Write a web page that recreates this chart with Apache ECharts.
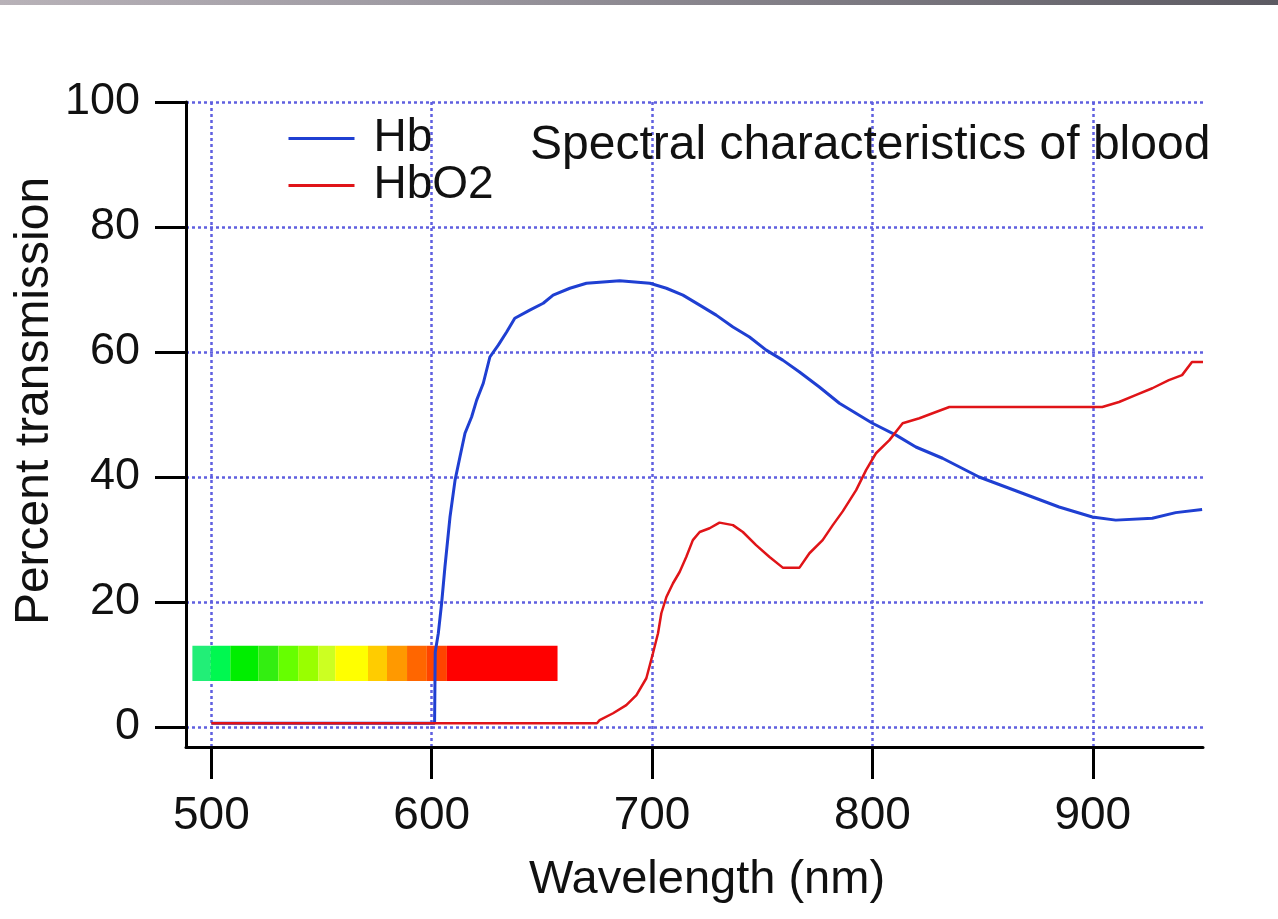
<!DOCTYPE html>
<html>
<head>
<meta charset="utf-8">
<title>Spectral characteristics of blood</title>
<script src="https://cdn.jsdelivr.net/npm/echarts@6/dist/echarts.min.js"></script>
<style>
  html, body { margin: 0; padding: 0; background: #fff; }
  #main { width: 1278px; height: 919px; }
</style>
</head>
<body>
<div id="main"></div>
<script>
// tick values
var xTicks = [500, 600, 700, 800, 900];
var yTicks = [0, 20, 40, 60, 80, 100];

// Hb (deoxygenated) curve
var hbX = [500, 601.3, 601.6, 603, 604.5, 606, 608.3, 610.6, 612.8, 615.1, 618.1, 620.4, 623.4, 626.4, 630.2, 634, 637.7, 644.5, 650.6, 655.1, 662.7, 670.2, 685.3, 699, 706.5, 714, 721.6, 729.1, 736.7, 744.2, 751.8, 759.3, 766.9, 775.9, 785, 800, 810.7, 819.7, 831.8, 848.4, 860.5, 872.6, 884.7, 899.8, 910.4, 927, 937.6, 949.6];
var hbY = [0.6, 0.6, 12, 15, 19.8, 25.6, 33.6, 39.5, 43.2, 47.0, 49.6, 52.3, 55.0, 59.2, 61.1, 63.2, 65.4, 66.7, 67.8, 69.1, 70.2, 71.0, 71.4, 71.0, 70.2, 69.1, 67.5, 65.9, 64.0, 62.4, 60.3, 58.7, 56.8, 54.4, 51.8, 48.6, 46.7, 44.8, 43.0, 40.0, 38.4, 36.8, 35.2, 33.6, 33.1, 33.4, 34.3, 34.8];

// HbO2 (oxygenated) curve
var hbo2X = [500, 675, 676.2, 682.3, 688.3, 692.9, 697.4, 700.4, 702.7, 704.2, 706.5, 709.5, 712.5, 715.5, 718.5, 721.6, 726.1, 730.6, 736.7, 741.2, 747.2, 753.3, 759.3, 766.9, 771.4, 777.4, 782, 786.5, 792.6, 797.1, 801.6, 807.7, 813.7, 821.3, 827.3, 834.9, 904.3, 911.9, 919.4, 927, 934.5, 940.5, 945, 950];
var hbo2Y = [0.6, 0.6, 1.1, 2.2, 3.5, 5.1, 7.8, 11.8, 15.0, 18.2, 20.8, 23.0, 24.8, 27.2, 29.9, 31.2, 31.8, 32.7, 32.3, 31.2, 29.1, 27.2, 25.5, 25.5, 27.8, 29.9, 32.3, 34.5, 37.9, 41.1, 43.8, 45.9, 48.6, 49.4, 50.2, 51.2, 51.2, 52.0, 53.1, 54.2, 55.5, 56.3, 58.4, 58.4];

// visible spectrum strip (wavelength bands)
var specStart = [491.4, 499.5, 508.6, 521.3, 530.4, 539.4, 548.5, 556.2, 571.1, 579.7, 588.8, 597.8, 606.9];
var specEnd = [499.5, 508.6, 521.3, 530.4, 539.4, 548.5, 556.2, 571.1, 579.7, 588.8, 597.8, 606.9, 657.1];
var specColor = ['#22ee77', '#00f850', '#00ee00', '#33ee11', '#66ff00', '#99ff00', '#ccff22', '#ffff00', '#ffcc00', '#ff9900', '#ff6600', '#ff4400', '#ff0000'];
var specLow = 7.36, specHigh = 13.0;

function pairs(xs, ys) {
  var out = [];
  for (var i = 0; i < xs.length; i++) out.push([xs[i], ys[i]]);
  return out;
}
var specData = [];
for (var i = 0; i < specStart.length; i++) specData.push([specStart[i], specEnd[i], specLow, specHigh]);

var font = 'Liberation Sans, Arial, sans-serif';
var gridColor = '#5f5fe0';

var myChart = echarts.init(document.getElementById('main'));
var option = {
  animation: false,
  backgroundColor: '#fff',
  title: {
    text: 'Spectral characteristics of blood',
    left: 525, top: 117,
    textStyle: { fontFamily: font, fontSize: 48, fontWeight: 'normal', color: '#111' }
  },
  legend: {
    data: ['Hb', 'HbO2'],
    orient: 'vertical',
    left: 282, top: 110,
    itemWidth: 66, itemHeight: 4, itemGap: 0,
    itemStyle: { opacity: 0 },
    lineStyle: { width: 3 },
    textStyle: { fontFamily: font, fontSize: 46, lineHeight: 47, color: '#111', padding: [0, 0, 0, 14] }
  },
  grid: { left: 186, right: 75, top: 102, bottom: 172 },
  xAxis: {
    type: 'value', min: 488.5, max: 950,
    axisLine: { onZero: false, lineStyle: { color: '#000', width: 3 } },
    axisTick: { customValues: xTicks, length: 32, lineStyle: { color: '#000', width: 3 } },
    axisLabel: { customValues: xTicks, margin: 46, fontFamily: font, fontSize: 46, color: '#111' },
    splitLine: { show: true, lineStyle: { color: gridColor, width: 2.5, type: [3, 3] } }
  },
  yAxis: {
    type: 'value', min: -3.2, max: 100,
    axisLine: { onZero: false, lineStyle: { color: '#000', width: 3 } },
    axisTick: { customValues: yTicks, length: 31, lineStyle: { color: '#000', width: 3 } },
    axisLabel: { customValues: yTicks, margin: 46, fontFamily: font, fontSize: 45, color: '#111' },
    splitLine: { show: true, lineStyle: { color: gridColor, width: 2.5, type: [3, 3] } }
  },
  graphic: [
    {
      type: 'rect', left: 0, top: 0, z: 10,
      shape: { width: 1278, height: 5 },
      style: { fill: new echarts.graphic.LinearGradient(0, 0, 1, 0, [
        { offset: 0, color: '#b8b2b8' }, { offset: 0.3, color: '#a09ca4' }, { offset: 1, color: '#5c5a62' }
      ]) }
    },
    {
      type: 'text', x: 35, y: 401, rotation: Math.PI / 2,
      style: { text: 'Percent transmission', fontFamily: font, fontSize: 48, fill: '#111', align: 'center', verticalAlign: 'middle' }
    },
    {
      type: 'text', x: 707, y: 880,
      style: { text: 'Wavelength (nm)', fontFamily: font, fontSize: 47, fill: '#111', align: 'center', verticalAlign: 'middle' }
    }
  ],
  series: [
    {
      name: 'spectrum', type: 'custom', z: 1,
      data: specData,
      encode: { x: [0, 1], y: [2, 3] },
      renderItem: function (params, api) {
        var p0 = api.coord([api.value(0), api.value(3)]);
        var p1 = api.coord([api.value(1), api.value(2)]);
        return {
          type: 'rect',
          shape: { x: p0[0], y: p0[1], width: p1[0] - p0[0], height: p1[1] - p0[1] },
          style: { fill: specColor[params.dataIndex] }
        };
      }
    },
    {
      name: 'Hb', type: 'line', z: 3,
      data: pairs(hbX, hbY),
      symbol: 'none',
      color: '#1f3fd2',
      lineStyle: { color: '#1f3fd2', width: 3 }
    },
    {
      name: 'HbO2', type: 'line', z: 4,
      data: pairs(hbo2X, hbo2Y),
      symbol: 'none',
      color: '#e01418',
      lineStyle: { color: '#e01418', width: 2.5 }
    }
  ]
};
myChart.setOption(option);
</script>
</body>
</html>
